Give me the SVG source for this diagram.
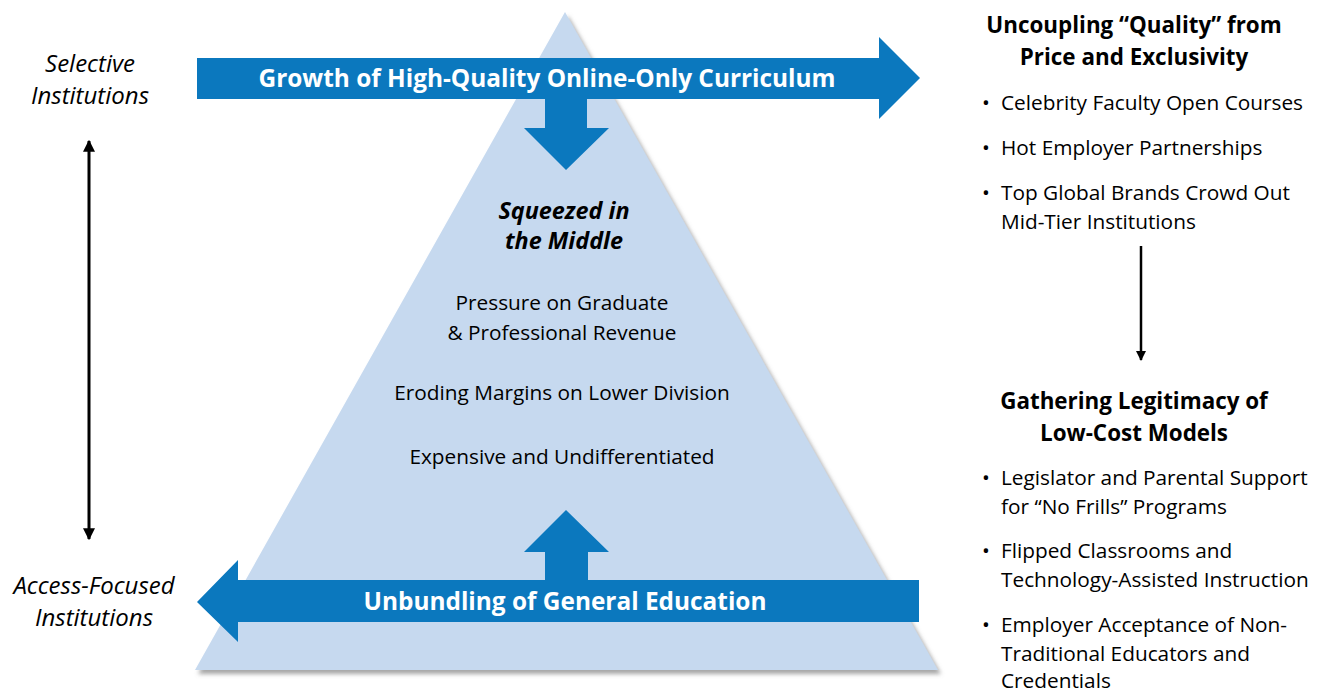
<svg xmlns="http://www.w3.org/2000/svg" width="1322" height="691" viewBox="0 0 1322 691">
<style>
  .t { font-family: "Open Sans", "Liberation Sans", sans-serif; fill: #000; }
  .c { text-anchor: middle; }
  .b { font-weight: bold; }
  .i { font-style: italic; }
  .body { font-size: 20.8px; }
  .head { font-size: 22.4px; font-weight: bold; }
  .side { font-size: 24px; font-style: italic; }
  .sq { font-size: 23.4px; font-weight: bold; font-style: italic; }
  .big { font-size: 24.4px; font-weight: bold; fill: #fff; }
  .blue { fill: #0B78BE; }
  .line { stroke: #000; fill: none; }
</style>
<defs>
  <filter id="sh" x="-10%" y="-10%" width="130%" height="130%">
    <feDropShadow dx="3" dy="4" stdDeviation="2" flood-color="#808080" flood-opacity="0.7"/>
  </filter>
  <marker id="ah" viewBox="0 0 10 10" refX="9" refY="5" markerWidth="4" markerHeight="4" orient="auto-start-reverse" markerUnits="strokeWidth">
    <path d="M0,0 L10,5 L0,10 z" fill="#000"/>
  </marker>
</defs>

<g id="triangle">
  <polygon points="565,12 938,670 195,670" fill="#C6D9EF" filter="url(#sh)"/>
</g>

<g id="top-arrow">
  <polygon class="blue" points="197,58 879,58 879,37 920,78 879,119 879,99 587,99 587,128 609,128 566,170 524,128 545,128 545,99 197,99"/>
  <text class="t c big" x="547" y="87">Growth of High-Quality Online-Only Curriculum</text>
</g>

<g id="bottom-arrow">
  <polygon class="blue" points="919,580 588,580 588,552 609,552 566,510 524,552 545,552 545,580 238,580 238,560 197,602 238,642 238,622 919,622"/>
  <text class="t c big" x="565" y="610">Unbundling of General Education</text>
</g>

<g id="middle">
  <text class="t c sq" x="564" y="219">Squeezed in</text>
  <text class="t c sq" x="564" y="249">the Middle</text>
  <text class="t c body" x="562" y="310">Pressure on Graduate</text>
  <text class="t c body" x="562" y="340">&amp; Professional Revenue</text>
  <text class="t c body" x="562" y="400">Eroding Margins on Lower Division</text>
  <text class="t c body" x="562" y="464">Expensive and Undifferentiated</text>
</g>

<g id="selective">
  <text class="t c side" x="90" y="72">Selective</text>
  <text class="t c side" x="90" y="104">Institutions</text>
</g>

<g id="access">
  <text class="t c side" x="94" y="594">Access-Focused</text>
  <text class="t c side" x="94" y="626">Institutions</text>
</g>

<g id="uncoupling">
  <text class="t c head" x="1134" y="33">Uncoupling “Quality” from</text>
  <text class="t c head" x="1134" y="65">Price and Exclusivity</text>
  <text class="t body" x="982" y="110">•</text><text class="t body" x="1001" y="110">Celebrity Faculty Open Courses</text>
  <text class="t body" x="982" y="155">•</text><text class="t body" x="1001" y="155">Hot Employer Partnerships</text>
  <text class="t body" x="982" y="200">•</text><text class="t body" x="1001" y="200">Top Global Brands Crowd Out</text>
  <text class="t body" x="1001" y="229">Mid-Tier Institutions</text>
</g>

<g id="gathering">
  <text class="t c head" x="1134" y="409">Gathering Legitimacy of</text>
  <text class="t c head" x="1134" y="441">Low-Cost Models</text>
  <text class="t body" x="982" y="485">•</text><text class="t body" x="1001" y="485">Legislator and Parental Support</text>
  <text class="t body" x="1001" y="514">for “No Frills” Programs</text>
  <text class="t body" x="982" y="558">•</text><text class="t body" x="1001" y="558">Flipped Classrooms and</text>
  <text class="t body" x="1001" y="587">Technology-Assisted Instruction</text>
  <text class="t body" x="982" y="632">•</text><text class="t body" x="1001" y="632">Employer Acceptance of Non-</text>
  <text class="t body" x="1001" y="661">Traditional Educators and</text>
  <text class="t body" x="1001" y="688">Credentials</text>
</g>

<g id="connectors">
  <line class="line" x1="89" y1="141" x2="89" y2="539" stroke-width="3" marker-start="url(#ah)" marker-end="url(#ah)"/>
  <line class="line" x1="1141" y1="246" x2="1141" y2="360" stroke-width="2.5" marker-end="url(#ah)"/>
</g>
</svg>
